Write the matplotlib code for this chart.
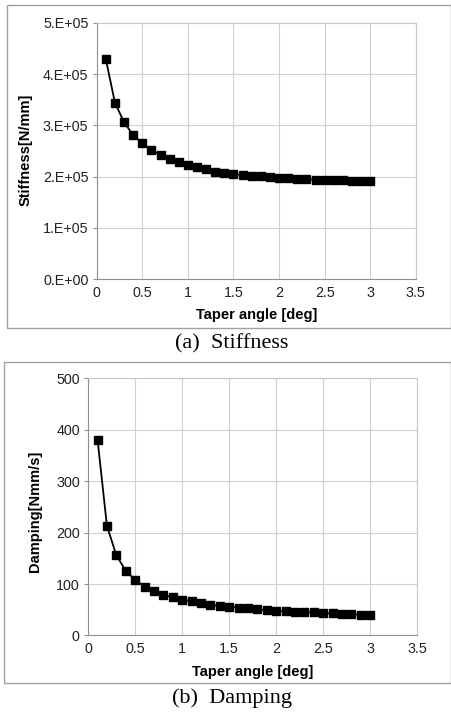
import matplotlib
matplotlib.use("Agg")
import matplotlib.pyplot as plt
from matplotlib.patches import Rectangle

# taper angle [deg]
angle = [0.1, 0.2, 0.3, 0.4, 0.5, 0.6, 0.7, 0.8, 0.9, 1.0,
         1.1, 1.2, 1.3, 1.4, 1.5, 1.6, 1.7, 1.8, 1.9, 2.0,
         2.1, 2.2, 2.3, 2.4, 2.5, 2.6, 2.7, 2.8, 2.9, 3.0]
stiffness = [4.29e5, 3.44e5, 3.06e5, 2.81e5, 2.65e5, 2.52e5, 2.43e5, 2.35e5, 2.29e5, 2.23e5,
             2.18e5, 2.15e5, 2.10e5, 2.08e5, 2.06e5, 2.03e5, 2.02e5, 2.01e5, 1.99e5, 1.97e5,
             1.97e5, 1.95e5, 1.95e5, 1.94e5, 1.94e5, 1.94e5, 1.94e5, 1.92e5, 1.92e5, 1.92e5]
damping = [381, 213, 156, 126, 108, 95, 87, 79, 74, 69,
           67, 64, 60, 57, 56, 54, 53, 51, 49, 48,
           47, 46, 45, 45, 43, 43, 42, 42, 40, 40]

xticks = [0, 0.5, 1, 1.5, 2, 2.5, 3, 3.5]
xtick_labels = ["0", "0.5", "1", "1.5", "2", "2.5", "3", "3.5"]
stiff_ticks = [0, 1e5, 2e5, 3e5, 4e5, 5e5]
stiff_labels = ["0.E+00", "1.E+05", "2.E+05", "3.E+05", "4.E+05", "5.E+05"]
damp_ticks = [0, 100, 200, 300, 400, 500]
damp_labels = ["0", "100", "200", "300", "400", "500"]

plt.rcParams['font.family'] = ['Liberation Sans', 'DejaVu Sans']

fig = plt.figure(figsize=(4.52, 7.14), dpi=100)


def style_ax(ax, yticks, ylabels, ylabel, ylab_xy, xlab_xy):
    ax.set_xlim(0, 3.5)
    ax.set_ylim(yticks[0], yticks[-1])
    ax.set_xticks(xticks)
    ax.set_xticklabels(xtick_labels)
    ax.set_yticks(yticks)
    ax.set_yticklabels(ylabels)
    ax.grid(True, color='#d0d0d0', lw=0.8)
    ax.set_axisbelow(True)
    for s in ax.spines.values():
        s.set_color('#c8c8c8')
        s.set_linewidth(0.8)
    ax.spines['left'].set_color('#909090')
    ax.spines['bottom'].set_color('#909090')
    ax.tick_params(axis='both', labelsize=10.3, colors='#909090', labelcolor='#222222')
    ax.tick_params(axis='x', length=0, pad=5)
    ax.tick_params(axis='y', length=3, pad=3)
    ax.set_xlabel("Taper angle [deg]", fontsize=10.5, fontweight='bold')
    ax.set_ylabel(ylabel, fontsize=10.5, fontweight='bold')
    ax.yaxis.set_label_coords(*ylab_xy)
    ax.xaxis.set_label_coords(*xlab_xy)
    ax.yaxis.label.set_va('center')
    ax.xaxis.label.set_va('center')


ax1 = fig.add_axes([0.214, 0.609, 0.706, 0.359])
ax1.plot(angle, stiffness, '-', color='black', lw=1.3, marker='s', ms=5.5)
style_ax(ax1, stiff_ticks, stiff_labels, "Stiffness[N/mm]", (-0.222, 0.504), (0.502, -0.139))

ax2 = fig.add_axes([0.195, 0.110, 0.728, 0.360])
ax2.plot(angle, damping, '-', color='black', lw=1.3, marker='s', ms=5.5)
style_ax(ax2, damp_ticks, damp_labels, "Damping[Nmm/s]", (-0.162, 0.484), (0.50, -0.143))

# gray frames round each panel
fig.patches.append(Rectangle((0.0155, 0.5406), 0.982, 0.4524, transform=fig.transFigure,
                             fill=False, edgecolor='#a0a0a0', lw=1.0))
fig.patches.append(Rectangle((0.0088, 0.0434), 0.989, 0.4496, transform=fig.transFigure,
                             fill=False, edgecolor='#a0a0a0', lw=1.0))

fig.text(0.512, 0.518, "(a)  Stiffness", ha='center', va='center', fontsize=16,
         family='Liberation Serif')
fig.text(0.513, 0.0224, "(b)  Damping", ha='center', va='center', fontsize=16,
         family='Liberation Serif')

fig.savefig("out.png", dpi=100)
